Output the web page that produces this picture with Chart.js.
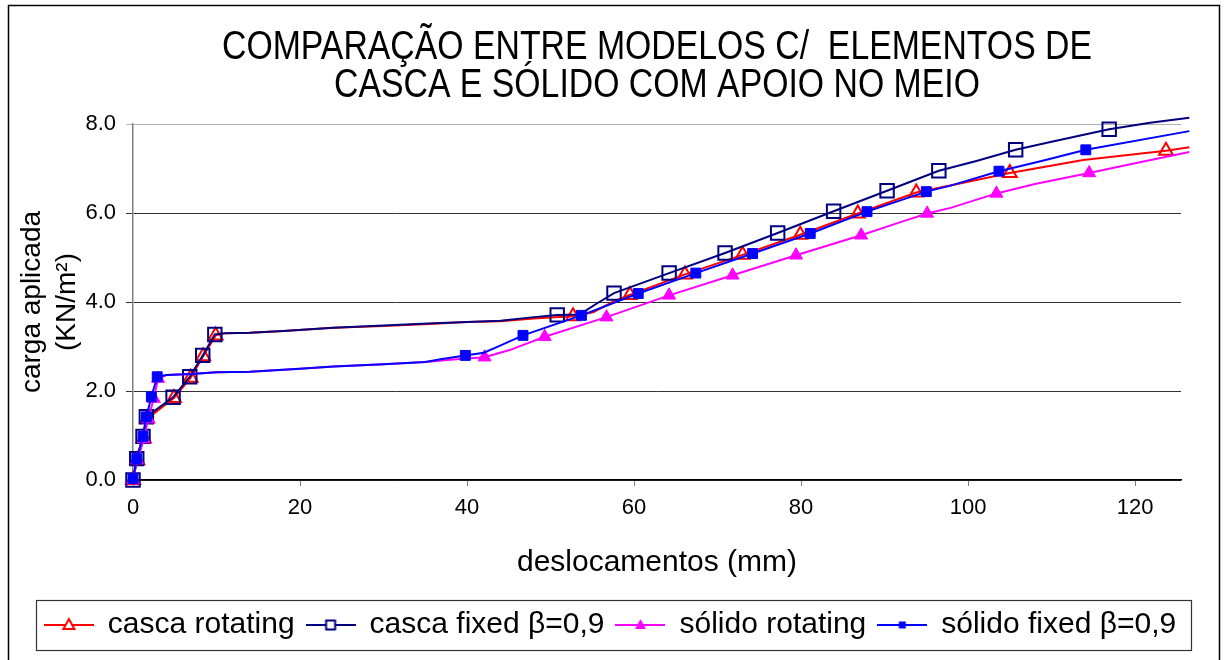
<!DOCTYPE html>
<html>
<head>
<meta charset="utf-8">
<script src="https://cdn.jsdelivr.net/npm/chart.js@4.4.1/dist/chart.umd.min.js"></script>
<style>
    html, body { margin: 0; padding: 0; background: #fff; }
    #wrap { width: 1228px; height: 660px; position: relative; }
</style>
</head>
<body>
<div id="wrap"><canvas id="myChart"></canvas></div>
<script>
var titleLines = ["COMPARAÇÃO ENTRE MODELOS C/  ELEMENTOS DE", "CASCA E SÓLIDO COM APOIO NO MEIO"];
var xTicks = [0, 20, 40, 60, 80, 100, 120];
var yTicks = [0, 2, 4, 6, 8];

// casca rotating (mark = 1 where the chart shows a marker)
var cascaRotX = [0, 0.5, 1.3, 1.7, 4.9, 6.9, 8.4, 9.9, 11, 14, 18, 24, 30, 36, 40, 44, 48, 50.5, 52.7, 55.1, 57.5, 59.5, 66.1, 73.0, 79.9, 86.8, 93.8, 100, 105.0, 113.8, 123.7, 126.5];
var cascaRotY = [0, 0.45, 0.93, 1.38, 1.84, 2.30, 2.78, 3.25, 3.30, 3.31, 3.35, 3.42, 3.46, 3.51, 3.55, 3.57, 3.63, 3.66, 3.68, 3.77, 4.01, 4.16, 4.62, 5.06, 5.51, 5.99, 6.46, 6.70, 6.90, 7.19, 7.40, 7.48];
var cascaRotMark = [1, 1, 1, 1, 1, 1, 1, 1, 0, 0, 0, 0, 0, 0, 0, 0, 0, 0, 1, 0, 0, 1, 1, 1, 1, 1, 1, 0, 1, 0, 1, 0];

// casca fixed
var cascaFixX = [0, 0.45, 1.2, 1.6, 4.8, 6.8, 8.35, 9.8, 11, 14, 18, 24, 30, 36, 40, 44, 48, 50.8, 53.5, 55.5, 57.6, 64.2, 70.9, 77.2, 83.9, 90.3, 96.5, 101, 105.7, 110, 116.9, 121.8, 126.5];
var cascaFixY = [0, 0.48, 0.98, 1.42, 1.86, 2.32, 2.80, 3.27, 3.30, 3.31, 3.35, 3.42, 3.47, 3.52, 3.55, 3.58, 3.66, 3.71, 3.72, 3.96, 4.20, 4.65, 5.10, 5.55, 6.04, 6.50, 6.95, 7.17, 7.42, 7.60, 7.88, 8.03, 8.14];
var cascaFixMark = [1, 1, 1, 1, 1, 1, 1, 1, 0, 0, 0, 0, 0, 0, 0, 0, 0, 1, 0, 0, 1, 1, 1, 1, 1, 1, 1, 0, 1, 0, 1, 0, 0];

// sólido rotating
var solidoRotX = [0, 0.5, 1.3, 1.8, 2.5, 3.0, 4, 7, 10, 14, 20, 24, 30, 35, 38, 42.1, 45.1, 49.3, 56.7, 64.2, 71.8, 79.4, 87.2, 92, 95.1, 98, 103.4, 108, 114.5, 119, 126.5];
var solidoRotY = [0, 0.45, 0.92, 1.37, 1.83, 2.28, 2.36, 2.38, 2.42, 2.43, 2.50, 2.55, 2.60, 2.65, 2.70, 2.76, 2.92, 3.22, 3.66, 4.15, 4.60, 5.05, 5.50, 5.80, 5.99, 6.12, 6.44, 6.65, 6.90, 7.08, 7.37];
var solidoRotMark = [1, 1, 1, 1, 1, 1, 0, 0, 0, 0, 0, 0, 0, 0, 0, 1, 0, 1, 1, 1, 1, 1, 1, 0, 1, 0, 1, 0, 1, 0, 0];

// sólido fixed
var solidoFixX = [0, 0.45, 1.2, 1.6, 2.2, 2.9, 4, 7, 10, 14, 20, 24, 30, 35, 37, 39.8, 42, 43.5, 46.7, 53.7, 60.5, 67.4, 74.2, 81.1, 87.9, 95.0, 97.8, 103.7, 108.8, 114.1, 126.5];
var solidoFixY = [0.03, 0.48, 0.98, 1.42, 1.87, 2.32, 2.36, 2.38, 2.42, 2.43, 2.50, 2.55, 2.60, 2.65, 2.72, 2.80, 2.86, 2.98, 3.25, 3.70, 4.19, 4.65, 5.09, 5.54, 6.03, 6.48, 6.61, 6.94, 7.17, 7.42, 7.84];
var solidoFixMark = [1, 1, 1, 1, 1, 1, 0, 0, 0, 0, 0, 0, 0, 0, 0, 1, 0, 0, 1, 1, 1, 1, 1, 1, 1, 1, 0, 1, 0, 1, 0];

var legendShift = 20;

function points(xs, ys) {
    return xs.map(function (x, i) { return { x: x, y: ys[i] }; });
}

function radii(marks, r) {
    return marks.map(function (m) { return m ? r : 0; });
}

// little line + marker picture used as the legend symbol
function legendIcon(color, shape, filled) {
    var c = document.createElement("canvas");
    c.width = 50;
    c.height = 22;
    var g = c.getContext("2d");
    g.strokeStyle = color;
    g.lineWidth = 2;
    g.beginPath();
    g.moveTo(0, 11);
    g.lineTo(50, 11);
    g.stroke();
    g.beginPath();
    if (shape === "triangle") {
        g.moveTo(25, 5);
        g.lineTo(30.5, 15);
        g.lineTo(19.5, 15);
        g.closePath();
    } else if (filled) {
        g.rect(21.5, 7.5, 7, 7);
    } else {
        g.rect(20.5, 6.5, 9, 9);
    }
    if (filled) {
        g.fillStyle = color;
        g.fill();
    } else {
        g.fillStyle = "#fff";
        g.fill();
        g.stroke();
    }
    return c;
}

var framePlugin = {
    id: "frame",
    afterLayout: function (chart) {
        chart.legend.left += legendShift;
        chart.legend.right += legendShift;
    },
    afterDraw: function (chart) {
        var ctx = chart.ctx;
        ctx.save();
        ctx.strokeStyle = "#000";
        ctx.lineWidth = 1.5;
        ctx.beginPath();
        ctx.moveTo(8.5, 700);
        ctx.lineTo(8.5, 5.5);
        ctx.lineTo(1219.5, 5.5);
        ctx.lineTo(1219.5, 700);
        ctx.stroke();

        // title, narrowed to the width of the original
        ctx.font = '40px "Liberation Sans", Arial, sans-serif';
        ctx.fillStyle = "#000";
        ctx.textAlign = "center";
        ctx.textBaseline = "middle";
        var sx = 870 / ctx.measureText(titleLines[0]).width;
        titleLines.forEach(function (t, i) {
            ctx.save();
            ctx.translate(657, 48 + i * 38);
            ctx.scale(sx, 1);
            ctx.fillText(t, 0, 0);
            ctx.restore();
        });

        var boxes = chart.legend.legendHitBoxes;
        if (boxes && boxes.length) {
            var first = boxes[0];
            var last = boxes[boxes.length - 1];
            var cy = chart.legend.top + 12 + 15;
            var l = first.left - 9;
            var r = last.left + last.width + 15;
            ctx.lineWidth = 1.2;
            ctx.strokeStyle = "#333";
            ctx.strokeRect(Math.round(l) + 0.5, Math.round(cy - 25) + 0.5, Math.round(r - l), 50);
        }
        ctx.restore();
    }
};

Chart.defaults.font.family = '"Liberation Sans", Arial, sans-serif';
Chart.defaults.color = "#000";

var ctx = document.getElementById("myChart").getContext("2d");

var chart = new Chart(ctx, {
    type: "scatter",
    data: {
        datasets: [
            {
                label: "casca rotating",
                data: points(cascaRotX, cascaRotY),
                borderColor: "#FF0000",
                borderWidth: 2,
                pointStyle: "triangle",
                pointRadius: radii(cascaRotMark, 8),
                pointBorderColor: "#FF0000",
                pointBackgroundColor: "rgba(255,255,255,0)",
                pointBorderWidth: 2,
                order: 4,
                icon: legendIcon("#FF0000", "triangle", false)
            },
            {
                label: "casca fixed β=0,9",
                data: points(cascaFixX, cascaFixY),
                borderColor: "#000080",
                borderWidth: 2,
                pointStyle: "rect",
                pointRadius: radii(cascaFixMark, 9.5),
                pointBorderColor: "#000080",
                pointBackgroundColor: "rgba(255,255,255,0)",
                pointBorderWidth: 2,
                order: 3,
                icon: legendIcon("#000080", "rect", false)
            },
            {
                label: "sólido rotating",
                data: points(solidoRotX, solidoRotY),
                borderColor: "#FF00FF",
                borderWidth: 2,
                pointStyle: "triangle",
                pointRadius: radii(solidoRotMark, 7.5),
                pointBorderColor: "#FF00FF",
                pointBackgroundColor: "#FF00FF",
                pointBorderWidth: 1,
                order: 2,
                icon: legendIcon("#FF00FF", "triangle", true)
            },
            {
                label: "sólido fixed β=0,9",
                data: points(solidoFixX, solidoFixY),
                borderColor: "#0000FF",
                borderWidth: 2,
                pointStyle: "rect",
                pointRadius: radii(solidoFixMark, 7),
                pointBorderColor: "#0000FF",
                pointBackgroundColor: "#0000FF",
                pointBorderWidth: 1,
                order: 1,
                icon: legendIcon("#0000FF", "rect", true)
            }
        ]
    },
    options: {
        responsive: true,
        maintainAspectRatio: false,
        animation: false,
        events: [],
        datasets: {
            scatter: {
                showLine: true,
                tension: 0,
                clip: false,
                pointHoverRadius: 0
            }
        },
        layout: {
            padding: { top: 124, left: 0, right: 47, bottom: 10 }
        },
        scales: {
            x: {
                type: "linear",
                min: 0,
                max: 125.5,
                afterBuildTicks: function (s) {
                    s.ticks = xTicks.map(function (v) { return { value: v }; });
                },
                afterFit: function (s) {
                    s.height = 118;
                },
                ticks: {
                    padding: 9,
                    font: { size: 22 },
                    color: "#000"
                },
                grid: {
                    drawOnChartArea: false,
                    tickLength: 6,
                    color: "#808080"
                },
                border: { color: "#000", width: 1.5 },
                title: {
                    display: true,
                    text: "deslocamentos (mm)",
                    font: { size: 30 },
                    padding: { top: 0, bottom: 17 },
                    color: "#000"
                }
            },
            y: {
                min: 0,
                max: 8,
                afterBuildTicks: function (s) {
                    s.ticks = yTicks.map(function (v) { return { value: v }; });
                },
                afterFit: function (s) {
                    s.width = 133;
                },
                ticks: {
                    padding: 10,
                    font: { size: 22 },
                    color: "#000",
                    callback: function (v) { return v.toFixed(1); }
                },
                grid: {
                    tickLength: 7,
                    lineWidth: 1,
                    color: function (c) {
                        return c.tick && c.tick.value === 8 ? "#b0b0b0" : "#333";
                    }
                },
                border: { color: "#808080", width: 1.5 },
                title: {
                    display: true,
                    text: ["carga aplicada", "(KN/m²)"],
                    font: { size: 28, lineHeight: 1.25 },
                    padding: { top: 15, bottom: 0 },
                    color: "#000"
                }
            }
        },
        plugins: {
            title: { display: false },
            tooltip: { enabled: false },
            legend: {
                position: "bottom",
                labels: {
                    usePointStyle: true,
                    pointStyleWidth: 48,
                    padding: 12,
                    font: { size: 30 },
                    color: "#000",
                    generateLabels: function (chart) {
                        return chart.data.datasets.map(function (ds, i) {
                            return {
                                text: ds.label,
                                pointStyle: ds.icon,
                                fillStyle: ds.borderColor,
                                strokeStyle: ds.borderColor,
                                lineWidth: 0,
                                hidden: false,
                                datasetIndex: i
                            };
                        });
                    }
                }
            }
        }
    },
    plugins: [framePlugin]
});
</script>
</body>
</html>
